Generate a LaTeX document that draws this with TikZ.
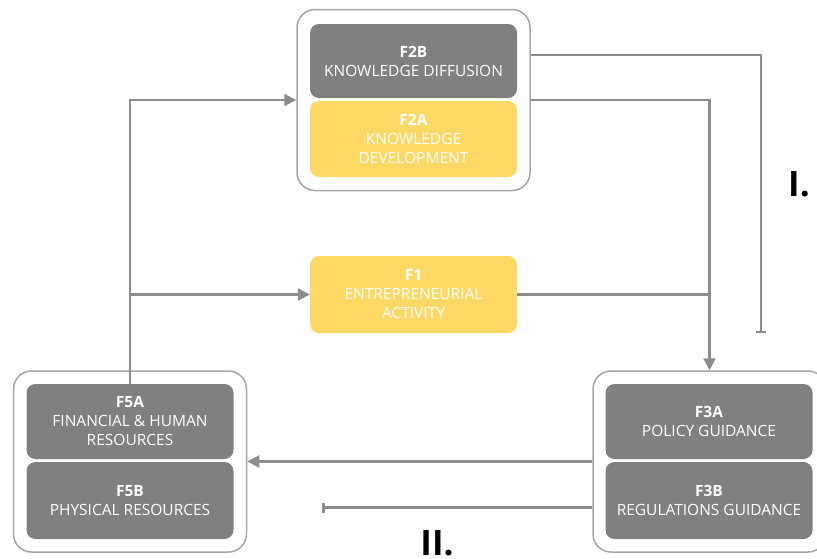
\documentclass[tikz,border=0pt]{standalone}
\usepackage{fontspec}
\setmainfont{Open Sans}
\usepackage{xcolor}
\usetikzlibrary{arrows.meta}

\definecolor{boxgray}{HTML}{808080}
\definecolor{boxyellow}{HTML}{FFD966}
\definecolor{linegray}{HTML}{8C8C8C}
\definecolor{framegray}{HTML}{A6A6A6}

\begin{document}
\begin{tikzpicture}[x=1pt,y=-1pt,
    outerbox/.style={draw=framegray, line width=1.5pt, fill=white, rounded corners=18pt,
        minimum width=233pt, minimum height=181pt},
    factor/.style={rounded corners=9pt, text=white, align=center, inner sep=0pt,
        minimum width=207pt, font=\fontsize{15.5}{19}\selectfont},
    grayfactor/.style={factor, fill=boxgray},
    yellowfactor/.style={factor, fill=boxyellow},
    link/.style={draw=linegray, line width=2.2pt},
    arr/.style={link, -{Triangle[length=12pt,width=12pt]}},
    stop/.style={link, -{Bar[width=10pt,line width=2.5pt]}},
    roman/.style={font=\fontsize{35}{35}\selectfont\bfseries, inner sep=0pt}]

\useasboundingbox (0,0) rectangle (817,558);

% Outer frames
\node[outerbox] (top) at (413.5,100) {};
\node[outerbox] (left) at (130,461.5) {};
\node[outerbox] (right) at (709.5,461.5) {};

% Factors
\node[grayfactor, minimum height=74pt] (F2B) at (413.5,61) {\textbf{F2B}\\KNOWLEDGE DIFFUSION};
\node[yellowfactor, minimum height=76pt] (F2A) at (413.5,139) {\textbf{F2A}\\KNOWLEDGE\\DEVELOPMENT};
\node[yellowfactor, minimum height=77pt] (F1) at (413.5,294.5) {\textbf{F1}\\ENTREPRENEURIAL\\ACTIVITY};
\node[grayfactor, minimum height=75pt] (F5A) at (130,421.5) {\textbf{F5A}\\FINANCIAL \& HUMAN\\RESOURCES};
\node[grayfactor, minimum height=77pt] (F5B) at (130,500.5) {\textbf{F5B}\\PHYSICAL RESOURCES};
\node[grayfactor, minimum height=75pt] (F3A) at (709,421.5) {\textbf{F3A}\\POLICY GUIDANCE};
\node[grayfactor, minimum height=77pt] (F3B) at (709,500.5) {\textbf{F3B}\\REGULATIONS GUIDANCE};

% Loop labels
\node[roman] (labI) at (799,184.5) {I.};
\node[roman] (labII) at (437,543) {II.};

% Free ends of the blocking lines
\coordinate (Iend) at (761,333);
\coordinate (IIend) at (322,507.5);

% Resources feed knowledge and entrepreneurship
\draw[arr] (F5A.north) |- (top.west);
\draw[arr] (F5A.north |- F1.west) -- (F1.west);

% Knowledge and entrepreneurship feed guidance
\draw[arr] (top.east) -| (right.north);
\draw[link] (F1.east) -- (F1.east -| right.north);
\draw[stop] ([yshift=45pt]top.east) -| (Iend);

% Guidance back to resources
\draw[arr] (right.west) -- (left.east);
\draw[stop] ([yshift=-46pt]right.west) -- (IIend);

\end{tikzpicture}
\end{document}
